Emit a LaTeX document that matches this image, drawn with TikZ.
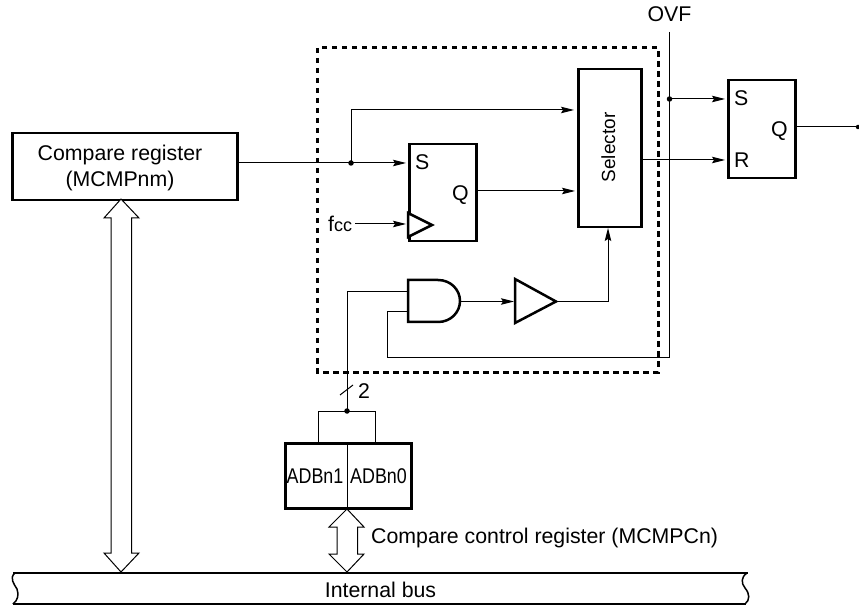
\documentclass[tikz,border=0pt]{standalone}
\usepackage{fontspec}
\setmainfont{Liberation Sans}
\usetikzlibrary{arrows.meta,calc}
\newcommand{\lbl}{\fontsize{21.3}{26}\selectfont}
\tikzset{
  thickbox/.style={draw=black,line width=2.5pt,fill=white,inner sep=0pt,align=center,font=\lbl},
  wire/.style={draw=black,line width=1pt},
  sig/.style={wire,-{Stealth[length=13pt,width=6.5pt,inset=2pt]}},
  jdot/.style={circle,fill=black,inner sep=0pt,minimum size=5.5pt},
  txt/.style={inner sep=0pt,font=\lbl,align=center},
  busarrow/.style={draw=black,line width=1pt,fill=white,line join=miter},
  outerdash/.style={draw=black,line width=3pt,dash pattern=on 5.5pt off 4.5pt},
  gate/.style={draw=black,line width=2.5pt,fill=white,line join=miter}
}
\begin{document}
\begin{tikzpicture}[x=1pt,y=-1pt]
\useasboundingbox (0,0) rectangle (859,609);
% dashed frame
\draw[outerdash] (317,48) rectangle (658,372);
% boxes
\node[thickbox,minimum width=225pt,minimum height=67pt,anchor=north west] (reg) at (11,132) {};
\node[txt] (regtext) at (120,168) {Compare register\\(MCMPnm)};
\node[thickbox,minimum width=63pt,minimum height=158pt,anchor=north west] (sel) at (577,68) {};
\node[txt,rotate=90,anchor=base] (seltext) at (615,147.5) {\fontsize{19}{22}\selectfont Selector};
\node[thickbox,minimum width=67pt,minimum height=97pt,anchor=north west] (ffa) at (408,143) {};
\node[thickbox,minimum width=67pt,minimum height=98pt,anchor=north west] (ffb) at (727,79) {};
\node[thickbox,minimum width=126pt,minimum height=65pt,anchor=north west] (adb) at (284,442) {};
% flip-flop labels
\node[txt,anchor=base west] (sa) at (415,170) {S};
\node[txt,anchor=base west] (qa) at (452,201) {Q};
\node[txt,anchor=base west] (sb) at (734,106) {S};
\node[txt,anchor=base west] (qb) at (771,137) {Q};
\node[txt,anchor=base west] (rb) at (734,168) {R};
\node[txt,anchor=base west] (fcc) at (328,232) {f{\fontsize{18}{20}\selectfont cc}};
\draw[gate] (408,213) -- (432,225) -- (408,237) -- cycle;
% signal coordinates
\coordinate (j1) at (351,163);
\coordinate (j2) at (669.5,99);
\coordinate (ovftop) at (669.5,32);
\coordinate (ovfbot) at (669.5,358);
\coordinate (qend) at (858,127);
\coordinate (j3) at (347,411);
\coordinate (fccout) at (355,224);
% and gate + buffer
\draw[gate] (408,280) -- (438,280) .. controls (451,280) and (460,290) .. (460,301) .. controls (460,312) and (451,322) .. (438,322) -- (408,322) -- cycle;
\coordinate (andin1) at (408,292);
\coordinate (andin2) at (408,312);
\coordinate (andout) at (460,301.5);
\draw[gate] (515,279) -- (556,301.5) -- (515,323) -- cycle;
\coordinate (bufin) at (514,301.5);
\coordinate (bufout) at (557,301.5);
% wires
\draw[wire] (reg.east |- j1) -- (j1);
\draw[sig] (j1) -- (406,163);
\draw[sig] (j1) |- (574,110);
\draw[sig] (ffa.east |- 0,191) -- (575,191);
\draw[sig] (fccout) -- (406,224);
\draw[wire] (sel.east |- 0,160) -- (700,160);
\draw[sig] (700,160) -- (725,160);
\draw[wire] (ovftop) -- (ovfbot) -- (387,358) -- (387,312) -- (andin2);
\draw[sig] (j2) -- (725,99);
\draw[wire] (ffb.east |- qend) -- (qend);
\node[jdot,minimum size=4.5pt] (qdot) at (qend) {};
\draw[sig] (andout) -- (bufin);
\draw[sig] (bufout) -| (608,228);
\draw[wire] (andin1) -| (j3);
\draw[wire] (318,442) |- (375,411) -- (375,442);
\draw[wire] (347,442) -- (347,507);
\draw[wire] (340,395) -- (353,385);
\node[jdot] (d1) at (j1) {};
\node[jdot] (d2) at (j2) {};
\node[jdot] (d3) at (j3) {};
% texts
\node[txt,anchor=base] (ovf) at (669.5,22) {OVF};
\node[txt,anchor=base west] (two) at (358,398) {2};
\node[txt,anchor=base] (adbl) at (315,483) {\scalebox{0.84}[1]{ADBn1}};
\node[txt,anchor=base] (adbr) at (378.5,483) {\scalebox{0.84}[1]{ADBn0}};
\node[txt,anchor=base west] (ctl) at (371,543) {Compare control register (MCMPCn)};
% bus
\fill[white] (13,573) -- (748,573) -- (748,604) -- (13,604) -- cycle;
\draw[draw=black,line width=2.5pt] (13,573) -- (748,573);
\draw[draw=black,line width=2.5pt] (13,604) -- (746,604);
\draw[draw=black,line width=1.5pt] (15,573) .. controls (9,578) and (14,584) .. (17,589) .. controls (19,595) and (18,600) .. (13,604);
\draw[draw=black,line width=1.5pt] (747,573) .. controls (741,577) and (741,583) .. (745,588) .. controls (750,594) and (750,600) .. (745,604);
\node[txt,anchor=base] (bus) at (380.5,597) {Internal bus};
% bus arrows
\draw[busarrow] (121,199) -- (139,218) -- (131.5,218) -- (131.5,553) -- (139,553) -- (121,572) -- (104,553) -- (111,553) -- (111,218) -- (104,218) -- cycle;
\draw[busarrow] (347,509) -- (364,527) -- (357.5,527) -- (357.5,554) -- (364,554) -- (347,572) -- (329,554) -- (337,554) -- (337,527) -- (329,527) -- cycle;
\end{tikzpicture}
\end{document}
